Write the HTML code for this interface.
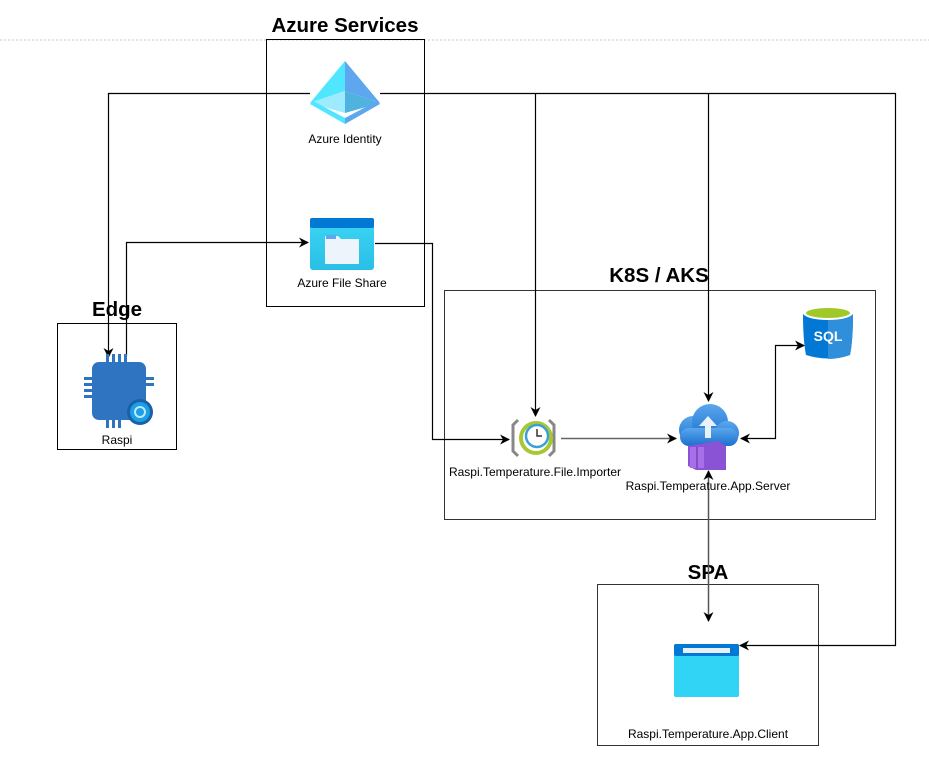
<!DOCTYPE html>
<html><head><meta charset="utf-8"><style>
html,body{margin:0;padding:0;background:#fff;}
svg{display:block;}
text{font-family:"Liberation Sans",sans-serif;}
</style></head><body>
<svg width="929" height="757" viewBox="0 0 929 757" xmlns="http://www.w3.org/2000/svg">
<defs>
<marker id="a" viewBox="0 0 10 10" refX="9" refY="5" markerWidth="10" markerHeight="10" orient="auto-start-reverse" markerUnits="userSpaceOnUse"><path d="M0,0 L10,5 L0,10 L3,5 Z" fill="#000"/></marker>
<linearGradient id="fs" x1="0" y1="0" x2="0" y2="1"><stop offset="0" stop-color="#3dd6f5"/><stop offset="1" stop-color="#29bfe6"/></linearGradient>
<linearGradient id="cl" x1="0" y1="0" x2="0" y2="1"><stop offset="0" stop-color="#5aa7ec"/><stop offset="1" stop-color="#1b6fcf"/></linearGradient>
</defs>
<line x1="0" y1="40" x2="929" y2="40" stroke="#c8c8c8" stroke-dasharray="2,2"/>
<rect x="266.5" y="39.5" width="158" height="267" fill="none" stroke="#000"/>
<text x="345" y="32" font-size="20.5" font-weight="bold" text-anchor="middle">Azure Services</text>
<rect x="57.5" y="323.5" width="119" height="126" fill="none" stroke="#000"/>
<text x="117" y="316" font-size="20.5" font-weight="bold" text-anchor="middle">Edge</text>
<rect x="444.5" y="290.5" width="431" height="229" fill="none" stroke="#333"/>
<text x="659" y="282" font-size="20.5" font-weight="bold" text-anchor="middle">K8S / AKS</text>
<rect x="597.5" y="584.5" width="221" height="161" fill="none" stroke="#333"/>
<text x="708" y="579" font-size="20.5" font-weight="bold" text-anchor="middle">SPA</text>
<g fill="none" stroke="#000" stroke-width="1.2">
<path d="M310,93.5 H108.5 V357" marker-end="url(#a)"/>
<path d="M380,93.5 H895.5 V645.5 H740" marker-end="url(#a)"/>
<path d="M535.5,93.5 V416" marker-end="url(#a)"/>
<path d="M708.5,93.5 V401" marker-end="url(#a)"/>
<path d="M126.5,356 V242.5 H308" marker-end="url(#a)"/>
<path d="M375,243.5 H432.5 V439.5 H509" marker-end="url(#a)"/>
<path d="M561,438.5 H676" stroke="#666" stroke-width="1.5" marker-end="url(#a)"/>
<path d="M741,438.5 H775.5 V345.5 H804" marker-start="url(#a)" marker-end="url(#a)"/>
<path d="M708.5,471 V621" stroke="#555" stroke-width="1.5" marker-start="url(#a)" marker-end="url(#a)"/>
</g>
<g>
<polygon points="345,61 310,103 345,91" fill="#50e6ff"/>
<polygon points="345,61 380,103 345,91" fill="#5ea7ef"/>
<polygon points="310,103 345,91 345,113" fill="#9cebff"/>
<polygon points="380,103 345,91 345,113" fill="#4fb2df"/>
<polygon points="310,104 345,124 345,118 313,101" fill="#50e6ff"/>
<polygon points="380,104 345,124 345,118 377,101" fill="#5ea7ef"/>
</g>
<text x="345" y="143" font-size="12" text-anchor="middle">Azure Identity</text>
<rect x="310" y="218" width="64" height="52" rx="3" fill="url(#fs)"/>
<rect x="310" y="218" width="64" height="10" rx="2" fill="#0078d4"/>
<path d="M325,236 h13 l3,3 h18 v25 h-34 z" fill="#eef4fb"/>
<rect x="326" y="235" width="10" height="4" fill="#5ea7ef"/>
<text x="342" y="287" font-size="12" text-anchor="middle">Azure File Share</text>
<g fill="#2f74c0">
<rect x="92" y="362" width="54" height="58" rx="7"/>
<rect x="106" y="354" width="3" height="9"/><rect x="112" y="354" width="3" height="9"/><rect x="118" y="354" width="3" height="9"/><rect x="124" y="354" width="3" height="9"/>
<rect x="106" y="419" width="3" height="9"/><rect x="112" y="419" width="3" height="9"/><rect x="118" y="419" width="3" height="9"/>
<rect x="84" y="377" width="9" height="3"/><rect x="84" y="383" width="9" height="3"/><rect x="84" y="389" width="9" height="3"/><rect x="84" y="395" width="9" height="3"/>
<rect x="145" y="377" width="9" height="3"/><rect x="145" y="383" width="9" height="3"/>
</g>
<circle cx="140" cy="412" r="13" fill="#1b5fa8"/>
<circle cx="140" cy="412" r="10" fill="#1aa0e6"/>
<circle cx="140" cy="412" r="5" fill="none" stroke="#bfe9ff" stroke-width="2"/>
<text x="117" y="444" font-size="12" text-anchor="middle">Raspi</text>
<path d="M518,420 l-5,5 v26 l5,5" fill="none" stroke="#888" stroke-width="3"/>
<path d="M549,420 l5,5 v26 l-5,5" fill="none" stroke="#888" stroke-width="3"/>
<circle cx="536" cy="438" r="15" fill="none" stroke="#a6c834" stroke-width="4"/>
<circle cx="537" cy="436" r="11" fill="#fff" stroke="#3aa0d8" stroke-width="2.5"/>
<path d="M537,429 v7 h5" fill="none" stroke="#333" stroke-width="1.5"/>
<text x="535" y="476" font-size="12" text-anchor="middle">Raspi.Temperature.File.Importer</text>
<g fill="url(#cl)">
<circle cx="693" cy="430" r="14"/><circle cx="710" cy="422" r="18"/><circle cx="727" cy="433" r="12"/>
<rect x="680" y="428" width="58" height="18" rx="9"/>
</g>
<polygon points="708,416 699,426 705,426 705,438 711,438 711,426 717,426" fill="#e8f1f8"/>
<polygon points="688,446 718,441 726,446 726,470 696,470 688,466" fill="#8a53d6"/>
<rect x="690" y="447" width="14" height="21" fill="#a86fe8"/>
<line x1="697" y1="447" x2="697" y2="468" stroke="#5b2c9e"/>
<text x="708" y="490" font-size="12" text-anchor="middle">Raspi.Temperature.App.Server</text>
<path d="M803,314 Q803,340 806,355 Q828,362 850,355 Q853,340 853,314 Z" fill="#0078d4"/>
<path d="M828,314 H853 Q853,340 850,355 Q839,359 828,359 Z" fill="#2f8fdb"/>
<ellipse cx="828" cy="313" rx="25" ry="7" fill="#fff"/>
<ellipse cx="828" cy="313" rx="22" ry="5" fill="#a0c928"/>
<text x="828" y="341" font-size="14" font-weight="bold" fill="#fff" text-anchor="middle">SQL</text>
<rect x="674" y="644" width="65" height="53" rx="2" fill="#32d4f5"/>
<rect x="674" y="644" width="65" height="12" rx="2" fill="#0078d4"/>
<rect x="683" y="648" width="47" height="5" fill="#e8f1f8"/>
<text x="708" y="738" font-size="12" text-anchor="middle">Raspi.Temperature.App.Client</text>
</svg>
</body></html>
